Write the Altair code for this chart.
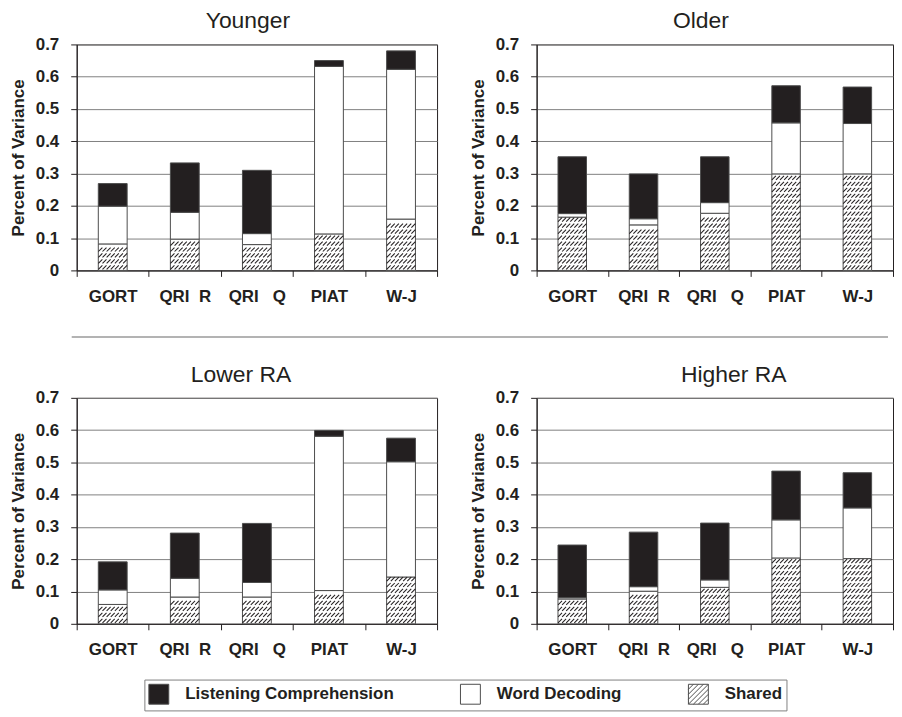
import json
import pandas as pd
import altair as alt

panels = ["Younger", "Older", "Lower RA", "Higher RA"]
title_dx = [-9, -14, -16, 19]
categories = ["GORT", "QRI\u00a0\u00a0R", "QRI\u00a0\u00a0\u00a0Q", "PIAT", "W-J"]
components = ["Listening Comprehension", "Word Decoding", "Shared"]

shared = {
    "Younger":   [0.082, 0.097, 0.080, 0.113, 0.159],
    "Older":     [0.165, 0.141, 0.177, 0.299, 0.299],
    "Lower RA":  [0.060, 0.083, 0.083, 0.103, 0.145],
    "Higher RA": [0.077, 0.101, 0.113, 0.204, 0.202],
}
word_decoding = {
    "Younger":   [0.117, 0.083, 0.034, 0.519, 0.464],
    "Older":     [0.011, 0.019, 0.033, 0.158, 0.156],
    "Lower RA":  [0.045, 0.058, 0.045, 0.478, 0.357],
    "Higher RA": [0.004, 0.014, 0.023, 0.118, 0.157],
}
listening = {
    "Younger":   [0.070, 0.153, 0.196, 0.018, 0.057],
    "Older":     [0.176, 0.139, 0.142, 0.115, 0.113],
    "Lower RA":  [0.087, 0.140, 0.183, 0.018, 0.073],
    "Higher RA": [0.163, 0.169, 0.176, 0.151, 0.109],
}
y_ticks = [0, 0.1, 0.2, 0.3, 0.4, 0.5, 0.6, 0.7]
x_ticks = [k / 2 for k in range(11)]   # band edges (ticks) and band centres (labels)

INK = "#231f20"
BAR_LEFT, BAR_RIGHT = 0.3, 0.7
HATCH_COLS = 7
HATCH_DY = 0.0185
HATCH_PATH = "M-1,1L1,-1"

rows = []
for p in panels:
    for i, c in enumerate(categories):
        s, w, l = shared[p][i], word_decoding[p][i], listening[p][i]
        for comp, lo, hi in [("Shared", 0.0, s),
                             ("Word Decoding", s, s + w),
                             ("Listening Comprehension", s + w, s + w + l)]:
            rows.append(dict(panel=p, idx=i, cat=c, comp=comp, lo=lo, hi=hi))
bars_df = pd.DataFrame(rows)

hrows = []
for p in panels:
    for i, s in enumerate(shared[p]):
        r = 0
        while (r + 0.5) * HATCH_DY + 0.0055 <= s:
            for j in range(HATCH_COLS):
                hrows.append(dict(panel=p,
                                  hx=i + BAR_LEFT + (BAR_RIGHT - BAR_LEFT) * (j + 0.5) / HATCH_COLS,
                                  hy=(r + 0.5) * HATCH_DY))
            r += 1
hatch_df = pd.DataFrame(hrows)

segs = ["M-1,-1H1V1H-1Z"]
c = -1.5
while c <= 1.51:
    x0, x1 = max(-1, c - 1), min(1, c + 1)
    segs.append(f"M{x0:.2f},{c - x0:.2f}L{x1:.2f},{c - x1:.2f}")
    c += 0.5
legend_hatch = "".join(segs)

legend = alt.Legend(
    orient="none", legendX=68, legendY=638, direction="horizontal",
    symbolSize=400, labelOffset=16, columnPadding=64, padding=4, labelLimit=400,
    strokeColor="#808080", labelFontSize=17, labelFontWeight="bold",
    labelFont="Liberation Sans", labelColor=INK,
    symbolType=alt.ExprRef(expr=f"datum.value === 'Shared' ? '{legend_hatch}' : 'square'"),
    symbolStrokeColor=INK, symbolStrokeWidth=1, symbolOpacity=1,
)

label_expr = f"datum.value % 1 === 0.5 ? {json.dumps(categories)}[floor(datum.value)] : ''"
tick_vis = {"condition": {"test": "datum.value % 1 === 0", "value": 1}, "value": 0}


def panel(name, dx, width, height, with_legend):
    xs = alt.Scale(domain=[0, 5], nice=False, zero=False)
    ys = alt.Scale(domain=[0, 0.7], nice=False)
    xaxis = alt.Axis(values=x_ticks, labelExpr=label_expr, tickOpacity=tick_vis, grid=False)
    yaxis = alt.Axis(values=y_ticks, format=".1~f")
    base = alt.Chart(bars_df).transform_filter(alt.datum.panel == name).transform_calculate(
        x0=f"datum.idx + {BAR_LEFT}", x1=f"datum.idx + {BAR_RIGHT}")
    fill_kw = dict(scale=alt.Scale(domain=components, range=[INK, "#ffffff", "#ffffff"]), title=None)
    if with_legend:
        fill_kw["legend"] = legend
    bars = base.mark_bar(stroke="#4d4d4d", strokeWidth=1).encode(
        x=alt.X("x0:Q", scale=xs, axis=xaxis, title=None),
        x2="x1:Q",
        y=alt.Y("lo:Q", scale=ys, axis=yaxis, title="Percent of Variance"),
        y2="hi:Q",
        fill=alt.Fill("comp:N", **fill_kw),
    )
    hatch = alt.Chart(hatch_df).transform_filter(alt.datum.panel == name).mark_point(
        shape=HATCH_PATH, size=16, filled=False, color=INK, strokeWidth=1.05, opacity=1
    ).encode(
        x=alt.X("hx:Q", scale=xs, axis=xaxis, title=None),
        y=alt.Y("hy:Q", scale=ys, axis=yaxis, title="Percent of Variance"),
    )
    return alt.layer(bars, hatch).properties(
        width=width, height=height,
        title=alt.TitleParams(name, dx=dx),
        view=alt.ViewBackground(stroke=INK),
    )


p1 = panel(panels[0], title_dx[0], 362, 227, True)
p2 = panel(panels[1], title_dx[1], 358, 227, False)
p3 = panel(panels[2], title_dx[2], 362, 227, False)
p4 = panel(panels[3], title_dx[3], 358, 227, False)

top = alt.hconcat(p1, p2, spacing=30)
bottom = alt.hconcat(p3, p4, spacing=30)

# divider between the two rows (its view origin is aligned with the left plot's left edge)
sep = alt.Chart(pd.DataFrame({"k": [0]})).mark_rule(color="#9a9a9a", strokeWidth=1.5).encode(
    x=alt.value(-5), x2=alt.value(815), y=alt.value(7)
).properties(width=815, height=7, view=alt.ViewBackground(stroke="transparent"))

chart = alt.vconcat(top, sep, bottom, spacing=24).properties(
    padding=0, background="white"
).configure(font="Liberation Sans").configure_axis(
    labelFont="Liberation Sans", labelFontSize=17, labelFontWeight="bold", labelColor=INK,
    titleFont="Liberation Sans", titleFontSize=17, titleFontWeight="bold", titleColor=INK,
    domainColor=INK, tickColor=INK, tickSize=6, labelPadding=12, gridColor="#808080",
).configure_axisX(labelFlush=False, labelOverlap=False).configure_axisY(
    titlePadding=8
).configure_title(
    font="Liberation Sans", fontSize=23, fontWeight="normal", color=INK, anchor="middle", offset=2
)

chart.save("out.html", embed_options={"renderer": "svg", "actions": False})
